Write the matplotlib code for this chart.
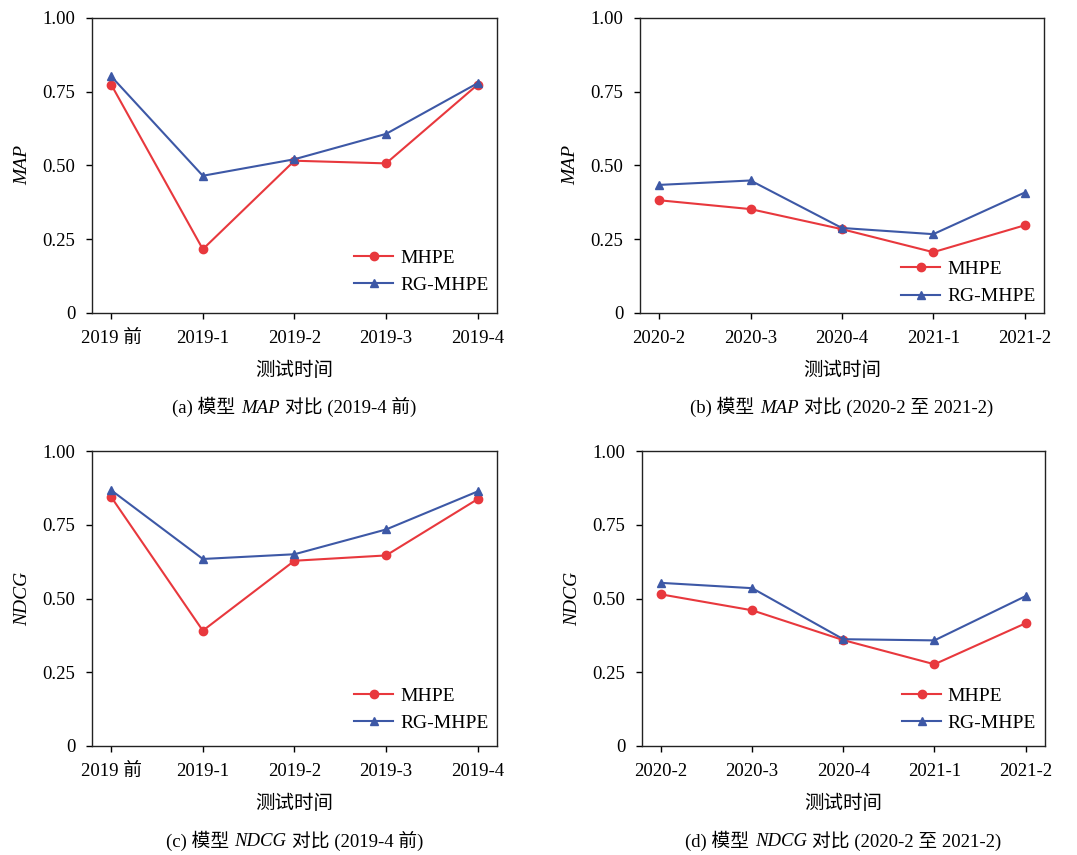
import matplotlib
matplotlib.use("Agg")
import matplotlib.pyplot as plt
from matplotlib.offsetbox import TextArea, HPacker, AnchoredOffsetbox

plt.rcParams['font.family'] = ['Liberation Serif', 'Noto Sans CJK SC']
plt.rcParams['font.size'] = 13.5

# data
early_periods = ['2019 前', '2019-1', '2019-2', '2019-3', '2019-4']
late_periods = ['2020-2', '2020-3', '2020-4', '2021-1', '2021-2']

map_early_mhpe = [0.774, 0.216, 0.516, 0.507, 0.774]
map_early_rg = [0.802, 0.465, 0.521, 0.607, 0.779]
map_late_mhpe = [0.382, 0.352, 0.284, 0.206, 0.297]
map_late_rg = [0.434, 0.449, 0.288, 0.267, 0.408]
ndcg_early_mhpe = [0.844, 0.391, 0.628, 0.646, 0.837]
ndcg_early_rg = [0.867, 0.634, 0.650, 0.734, 0.863]
ndcg_late_mhpe = [0.514, 0.460, 0.359, 0.277, 0.416]
ndcg_late_rg = [0.553, 0.535, 0.362, 0.358, 0.508]

y_ticks = [0, 0.25, 0.5, 0.75, 1.0]
y_tick_labels = ['0', '0.25', '0.50', '0.75', '1.00']

RED = '#E8383D'
BLUE = '#3D58A6'
CJK = ['Liberation Serif', 'Noto Sans CJK SC']

fig = plt.figure(figsize=(10.77, 8.55), dpi=100)

panels = [
    # rect, categories, mhpe, rg, ylabel, caption parts, legend anchor
    ([0.0854, 0.634, 0.376, 0.345], early_periods, map_early_mhpe, map_early_rg,
     'MAP', ('(a) 模型', 'MAP', '对比 (2019-4 前)'), 0.024),
    ([0.5942, 0.634, 0.375, 0.345], late_periods, map_late_mhpe, map_late_rg,
     'MAP', ('(b) 模型', 'MAP', '对比 (2020-2 至 2021-2)'), -0.014),
    ([0.0854, 0.1275, 0.376, 0.345], early_periods, ndcg_early_mhpe, ndcg_early_rg,
     'NDCG', ('(c) 模型', 'NDCG', '对比 (2019-4 前)'), 0.007),
    ([0.596, 0.1275, 0.374, 0.345], late_periods, ndcg_late_mhpe, ndcg_late_rg,
     'NDCG', ('(d) 模型', 'NDCG', '对比 (2020-2 至 2021-2)'), 0.007),
]

for rect, cats, mhpe, rg, ylab, cap, leg_y in panels:
    ax = fig.add_axes(rect)
    x = range(len(cats))
    ax.plot(x, mhpe, '-o', color=RED, lw=1.5, ms=6, label='MHPE')
    ax.plot(x, rg, '-^', color=BLUE, lw=1.5, ms=6, label='RG-MHPE')
    ax.set_xlim(-0.21, 4.21)
    ax.set_ylim(0, 1.0)
    ax.set_xticks(list(x))
    ax.set_xticklabels(cats)
    ax.set_yticks(y_ticks)
    ax.set_yticklabels(y_tick_labels)
    ax.tick_params(direction='out', length=4, width=1, labelsize=13.5, pad=8)
    for s in ax.spines.values():
        s.set_linewidth(1.0)
        s.set_color('#222222')
    ax.set_ylabel(ylab, style='italic', fontsize=14, labelpad=8)
    ax.set_xlabel('测试时间', fontsize=14, labelpad=11)
    ax.legend(loc='lower right', bbox_to_anchor=(1.008, leg_y), frameon=False,
              fontsize=14, handlelength=2.0, handletextpad=0.35, labelspacing=0.5,
              borderaxespad=0.2)

    parts = [TextArea(cap[0], textprops=dict(family=CJK, fontsize=13.5)),
             TextArea(cap[1], textprops=dict(family=CJK, style='italic', fontsize=13.5)),
             TextArea(cap[2], textprops=dict(family=CJK, fontsize=13.5))]
    box = HPacker(children=parts, align='baseline', pad=0, sep=4)
    anchored = AnchoredOffsetbox(loc='center', child=box, frameon=False, pad=0,
                                 bbox_to_anchor=(0.5, -0.32), bbox_transform=ax.transAxes,
                                 borderpad=0)
    ax.add_artist(anchored)

fig.savefig('out.png', dpi=100)
